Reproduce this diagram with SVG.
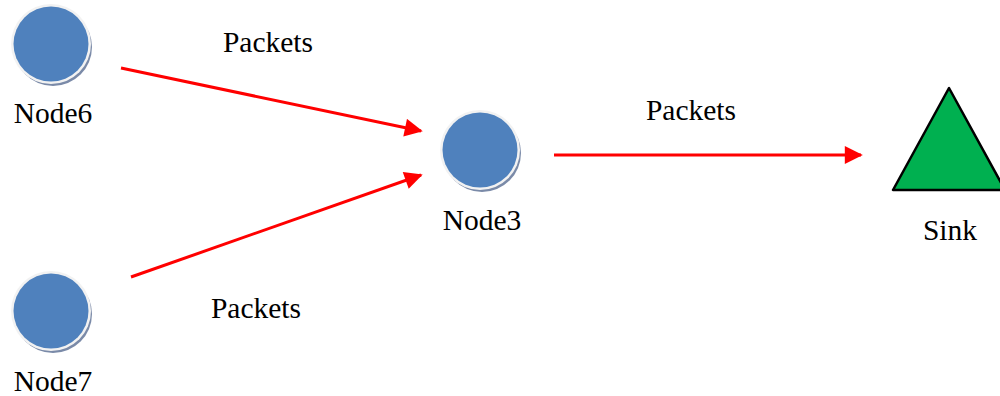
<svg xmlns="http://www.w3.org/2000/svg" width="1000" height="396" viewBox="0 0 1000 396">
  <style>
    .lbl { font-family: "Liberation Serif", "Times New Roman", serif; font-size: 29.5px; fill: #000; text-anchor: middle; }
    .edge { stroke: #ff0000; stroke-width: 3; fill: none; marker-end: url(#arrow); }
    .rim { fill: #7a8aa8; }
    .ring { fill: #f2f2f2; }
    .face { fill: #4f81bd; }
  </style>
  <defs>
    <marker id="arrow" viewBox="0 0 10 10" refX="9" refY="5" markerWidth="7" markerHeight="6" orient="auto" markerUnits="strokeWidth">
      <path d="M0,0 L10,5 L0,10 z" fill="#ff0000"/>
    </marker>
    <!-- coin-like node: shaded rim, light ring, blue face -->
    <g id="coin">
      <circle class="rim" cx="2" cy="3" r="39"/>
      <circle class="ring" cx="0" cy="0" r="40"/>
      <circle class="face" cx="0" cy="0" r="37.5"/>
    </g>
  </defs>

  <g id="connectors">
    <line class="edge" x1="121" y1="68" x2="421" y2="131"/>
    <line class="edge" x1="131" y1="277" x2="421" y2="175"/>
    <line class="edge" x1="554" y1="155" x2="861" y2="155"/>
  </g>

  <g id="edge-labels">
    <text class="lbl" x="268" y="52">Packets</text>
    <text class="lbl" x="691" y="120">Packets</text>
    <text class="lbl" x="256" y="318">Packets</text>
  </g>

  <g id="node6">
    <use href="#coin" x="51" y="44"/>
    <text class="lbl" x="53" y="123">Node6</text>
  </g>

  <g id="node7">
    <use href="#coin" x="51" y="311"/>
    <text class="lbl" x="53" y="391">Node7</text>
  </g>

  <g id="node3">
    <use href="#coin" x="480" y="150"/>
    <text class="lbl" x="482" y="230">Node3</text>
  </g>

  <g id="sink">
    <polygon points="949,88 893,190 1005,190" fill="#00b050" stroke="#000" stroke-width="2.5" stroke-linejoin="round"/>
    <text class="lbl" x="950" y="240">Sink</text>
  </g>
</svg>
